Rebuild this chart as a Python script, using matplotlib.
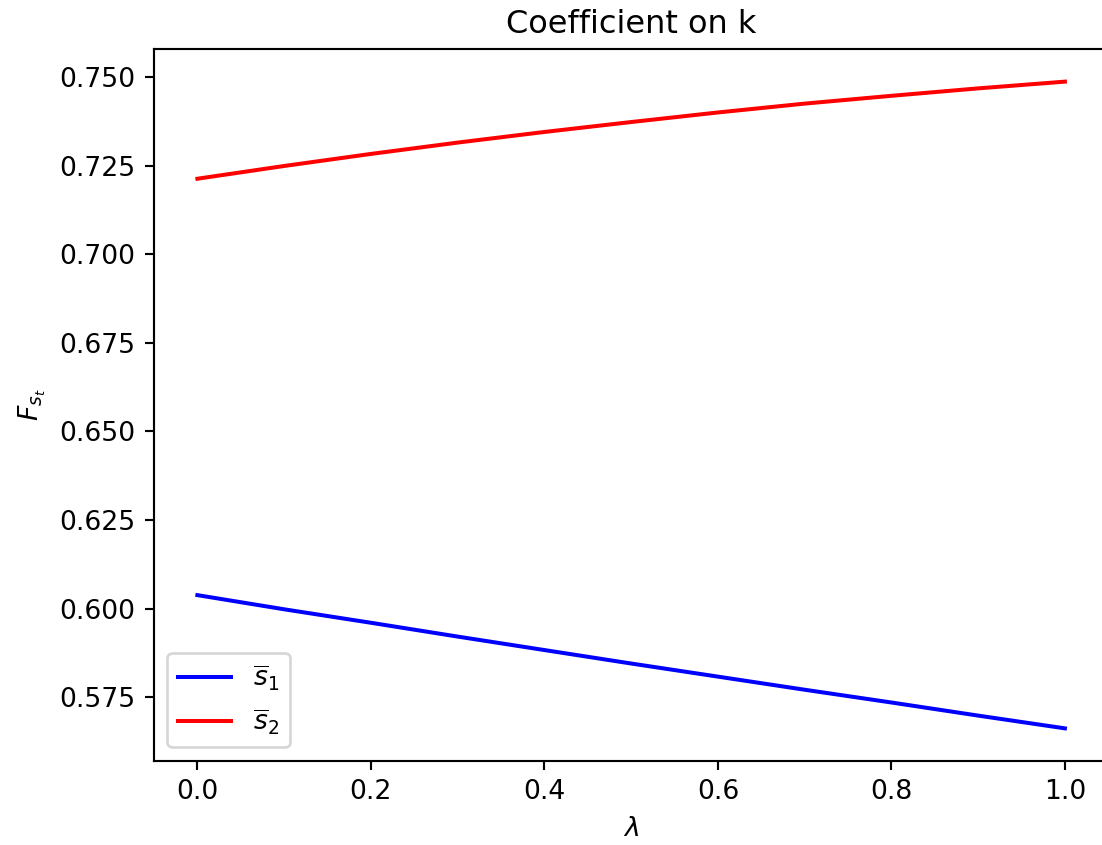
import matplotlib
matplotlib.use("Agg")
import matplotlib.pyplot as plt
import numpy as np

# values
lam = [0.0, 0.1, 0.2, 0.3, 0.4, 0.5, 0.6, 0.7, 0.8, 0.9, 1.0]
s1_bar = [0.6038, 0.5998, 0.5960, 0.5921, 0.5883, 0.5845, 0.5808, 0.5771, 0.5735, 0.5698, 0.5662]
s2_bar = [0.7213, 0.7249, 0.7283, 0.7315, 0.7345, 0.7373, 0.7400, 0.7425, 0.7447, 0.7468, 0.7487]

DPI = 192
W, H = 1102, 845

fig = plt.figure(figsize=(W / DPI, H / DPI), dpi=DPI)
# axes extends slightly past the right edge, as in the cropped original
ax = fig.add_axes([154 / W, 1 - 760.7 / H, 954.3 / W, (760.7 - 49.3) / H])

ax.plot(lam, s1_bar, color='blue', label=r'$\overline{s}_1$')
ax.plot(lam, s2_bar, color='red', label=r'$\overline{s}_2$')

ax.set_title("Coefficient on k")
ax.set_xlabel(r'$\lambda$')
ax.set_ylabel(r'$F_{s_t}$')
ax.set_xticks(np.arange(0, 1.01, 0.2))
ax.set_yticks(np.arange(0.575, 0.7501, 0.025))
ax.legend(loc='lower left')

fig.savefig("out.png", dpi=DPI)
